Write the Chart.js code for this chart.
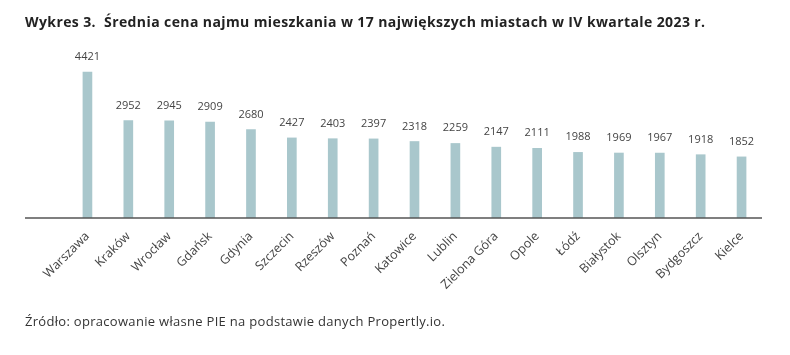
<!DOCTYPE html>
<html>
<head>
<meta charset="utf-8">
<script src="https://cdn.jsdelivr.net/npm/chart.js@4.4.1/dist/chart.umd.min.js"></script>
<style>
  html, body { margin: 0; padding: 0; background: #fff; }
  #wrap { position: relative; width: 790px; height: 355px; overflow: hidden; }
  #title { position: absolute; left: 25px; top: 12px; font: bold 14px "Open Sans", sans-serif; letter-spacing: 0.4px; color: #222; white-space: pre; }
  #source { position: absolute; left: 25px; top: 312px; font: 13px "Open Sans", sans-serif; letter-spacing: 0.3px; color: #333; white-space: pre; }
  canvas { position: absolute; left: 0; top: 0; }
</style>
</head>
<body>
<div id="wrap">
  <canvas id="c" width="790" height="355"></canvas>
  <div id="title">Wykres 3.  Średnia cena najmu mieszkania w 17 największych miastach w IV kwartale 2023 r.</div>
  <div id="source">Źródło: opracowanie własne PIE na podstawie danych Propertly.io.</div>
</div>
<script>
const categories = ["Warszawa","Kraków","Wrocław","Gdańsk","Gdynia","Szczecin","Rzeszów","Poznań","Katowice","Lublin","Zielona Góra","Opole","Łódź","Białystok","Olsztyn","Bydgoszcz","Kielce"];
const values = [4421, 2952, 2945, 2909, 2680, 2427, 2403, 2397, 2318, 2259, 2147, 2111, 1988, 1969, 1967, 1918, 1852];
const yMax = 5000;

const valueLabels = {
  id: 'valueLabels',
  afterDatasetsDraw(chart) {
    const ctx = chart.ctx;
    const meta = chart.getDatasetMeta(0);
    ctx.save();
    ctx.font = '11px "Open Sans", sans-serif';
    ctx.fillStyle = '#444';
    ctx.textAlign = 'center';
    ctx.textBaseline = 'alphabetic';
    meta.data.forEach((bar, i) => {
      ctx.fillText(String(values[i]), bar.x, bar.y - 12);
    });
    ctx.restore();
  }
};

const baseLine = {
  id: 'baseLine',
  afterDatasetsDraw(chart) {
    const ctx = chart.ctx;
    const y = chart.scales.y.getPixelForValue(0);
    ctx.save();
    ctx.strokeStyle = '#555';
    ctx.lineWidth = 1.5;
    ctx.beginPath();
    ctx.moveTo(25, y);
    ctx.lineTo(chart.chartArea.right, y);
    ctx.stroke();
    ctx.restore();
  }
};

new Chart(document.getElementById('c'), {
  type: 'bar',
  data: {
    labels: categories,
    datasets: [{
      data: values,
      backgroundColor: '#a9c7cc',
      barThickness: 9
    }]
  },
  options: {
    responsive: false,
    animation: false,
    layout: { padding: { left: 67, right: 28, top: 53, bottom: 0 } },
    plugins: { legend: { display: false }, tooltip: { enabled: false } },
    scales: {
      y: { display: false, min: 0, max: yMax },
      x: {
        grid: { display: false, drawTicks: false },
        border: { display: false },
        ticks: {
          minRotation: 45, maxRotation: 45, autoSkip: false, padding: 11,
          color: '#444', font: { family: '"Open Sans", sans-serif', size: 12.5 }
        },
        afterFit(scale) { scale.height = 137; }
      }
    }
  },
  plugins: [valueLabels, baseLine]
});
</script>
</body>
</html>
